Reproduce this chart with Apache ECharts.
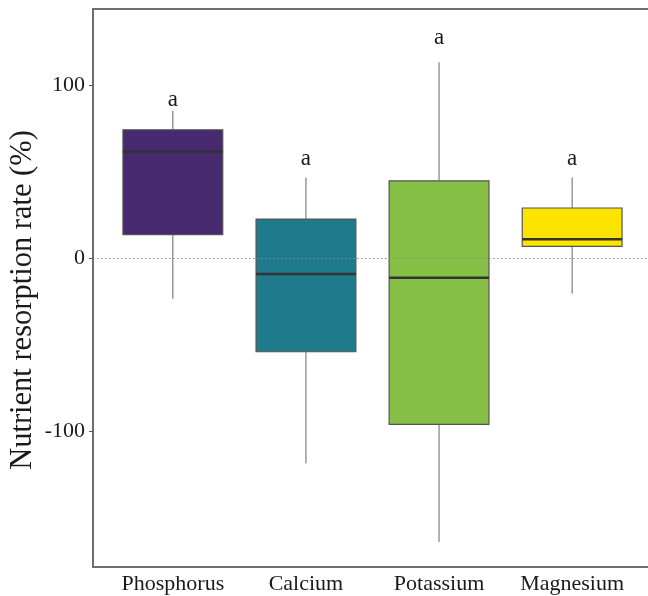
<!DOCTYPE html>
<html><head><meta charset="utf-8">
<script src="https://cdn.jsdelivr.net/npm/echarts@6/dist/echarts.min.js"></script>
<style>html,body{margin:0;padding:0;background:#fff}#c{width:648px;height:596px}</style>
</head><body><div id="c"></div>
<script>
const categories = ['Phosphorus', 'Calcium', 'Potassium', 'Magnesium'];
const lowerWhisker = [-23.4, -118.6, -164.0, -20.5];
const q1 = [13.6, -54.1, -96.1, 6.8];
const median = [61.6, -9.1, -11.3, 10.9];
const q3 = [74.2, 22.6, 44.7, 29.0];
const upperWhisker = [85.1, 46.6, 113.2, 46.6];
const letters = ['a', 'a', 'a', 'a'];
const letterY = [91.5, 57.5, 127.5, 57.5];
const colors = ['#46296f', '#1f7a8c', '#86bf46', '#fde400'];
const yTicks = [-100, 0, 100];
const yTitle = 'Nutrient resorption rate (%)';

const FONT = '"Liberation Serif", "Times New Roman", serif';
const data = categories.map((c, i) => [i + 1, lowerWhisker[i], q1[i], median[i], q3[i], upperWhisker[i], letterY[i]]);

function renderItem(params, api) {
  const i = params.dataIndex;
  const x = api.value(0);
  const hw = 0.375;
  const lo = api.coord([x, api.value(1)]);
  const b1 = api.coord([x - hw, api.value(2)]);
  const b3 = api.coord([x + hw, api.value(4)]);
  const medL = api.coord([x - hw, api.value(3)]);
  const medR = api.coord([x + hw, api.value(3)]);
  const hi = api.coord([x, api.value(5)]);
  const q1c = api.coord([x, api.value(2)]);
  const q3c = api.coord([x, api.value(4)]);
  const lab = api.coord([x, api.value(6)]);
  const whisk = { stroke: '#666', lineWidth: 1 };
  return {
    type: 'group',
    children: [
      { type: 'line', shape: { x1: hi[0], y1: hi[1], x2: q3c[0], y2: q3c[1] }, style: whisk },
      { type: 'line', shape: { x1: lo[0], y1: lo[1], x2: q1c[0], y2: q1c[1] }, style: whisk },
      { type: 'rect', shape: { x: b1[0], y: b3[1], width: b3[0] - b1[0], height: b1[1] - b3[1] },
        style: { fill: colors[i], stroke: '#555', lineWidth: 1.2 } },
      { type: 'line', shape: { x1: medL[0], y1: medL[1], x2: medR[0], y2: medR[1] },
        style: { stroke: '#333', lineWidth: 2.5 } },
      { type: 'text', style: { text: letters[i], x: lab[0], y: lab[1], align: 'center', verticalAlign: 'middle',
        fontSize: 23, fontFamily: FONT, fill: '#1a1a1a' } }
    ]
  };
}

const chart = echarts.init(document.getElementById('c'), null, { renderer: 'canvas' });
chart.setOption({
  animation: false,
  backgroundColor: '#fff',
  grid: { left: 93, top: 9, right: -4, bottom: 29, outerBoundsMode: 'none', containLabel: false,
    show: true, borderColor: '#6e6e6e', borderWidth: 2, backgroundColor: 'transparent' },
  graphic: [{
    type: 'text', x: 23, y: 300, rotation: Math.PI / 2,
    style: { text: yTitle, align: 'center', verticalAlign: 'middle', fontSize: 30.5, fontFamily: FONT, fill: '#1a1a1a' }
  }],
  xAxis: {
    type: 'value', min: 0.4, max: 4.6,
    axisLine: { show: false }, axisTick: { show: false }, splitLine: { show: false },
    axisLabel: { customValues: [1, 2, 3, 4], formatter: v => categories[Math.round(v) - 1] || '',
      fontSize: 22, fontFamily: FONT, color: '#1a1a1a', margin: 6 }
  },
  yAxis: {
    type: 'value', min: -178.5, max: 144,
    axisLine: { show: false }, splitLine: { show: false },
    axisTick: { show: true, customValues: yTicks, length: 4, lineStyle: { color: '#555' } },
    axisLabel: { customValues: yTicks, fontSize: 22, fontFamily: FONT, color: '#1a1a1a', margin: 8 }
  },
  series: [{
    type: 'custom', renderItem: renderItem, data: data, clip: false,
    markLine: { silent: true, symbol: 'none', label: { show: false },
      lineStyle: { type: [1.5, 2.5], color: '#888', width: 1 },
      data: [{ yAxis: 0 }] }
  }]
});
</script>
</body></html>
